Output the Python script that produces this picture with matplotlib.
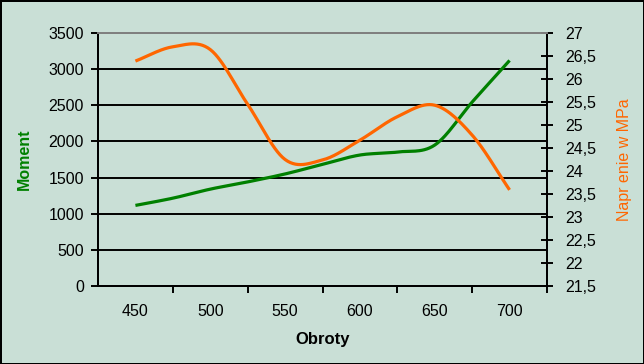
import numpy as np
import matplotlib
matplotlib.use("Agg")
import matplotlib.pyplot as plt
from matplotlib.ticker import FuncFormatter

plt.rcParams['font.family'] = ['Liberation Sans', 'DejaVu Sans']

# data
obroty = [450, 475, 500, 525, 550, 575, 600, 625, 650, 675, 700]
moment = [1115, 1215, 1340, 1440, 1550, 1683, 1812, 1853, 1950, 2545, 3120]
naprezenie = [26.39, 26.70, 26.64, 25.45, 24.25, 24.24, 24.67, 25.18, 25.43, 24.78, 23.59]

x_labels = [450, 500, 550, 600, 650, 700]
left_ticks = [0, 500, 1000, 1500, 2000, 2500, 3000, 3500]
right_ticks = [21.5, 22, 22.5, 23, 23.5, 24, 24.5, 25, 25.5, 26, 26.5, 27]

bg = '#C9DFD6'
green = '#008000'
orange = '#FF6600'


def smooth(x, y, n=30):
    # Catmull-Rom, close to Excel's smoothed line
    x = np.asarray(x, float)
    y = np.asarray(y, float)
    px = np.concatenate([[2 * x[0] - x[1]], x, [2 * x[-1] - x[-2]]])
    py = np.concatenate([[2 * y[0] - y[1]], y, [2 * y[-1] - y[-2]]])
    xs, ys = [], []
    t = np.linspace(0, 1, n)
    for i in range(1, len(px) - 2):
        for p, out in ((px, xs), (py, ys)):
            p0, p1, p2, p3 = p[i - 1], p[i], p[i + 1], p[i + 2]
            m1 = (p2 - p0) / 2
            m2 = (p3 - p1) / 2
            h = (2 * t**3 - 3 * t**2 + 1) * p1 + (t**3 - 2 * t**2 + t) * m1 \
                + (-2 * t**3 + 3 * t**2) * p2 + (t**3 - t**2) * m2
            out.extend(h)
    return np.array(xs), np.array(ys)


fig = plt.figure(figsize=(6.44, 3.64), dpi=100)
fig.patch.set_facecolor(bg)
fig.patch.set_edgecolor('black')
fig.patch.set_linewidth(2)

ax = fig.add_axes([98 / 644, 78 / 364, 449 / 644, 253 / 364])
ax.set_facecolor(bg)
ax2 = ax.twinx()

gx, gy = smooth(obroty, moment)
ax.plot(gx, gy, color=green, lw=2.3, solid_capstyle='butt', zorder=3)
ox, oy = smooth(obroty, naprezenie)
ax2.plot(ox, oy, color=orange, lw=2.3, solid_capstyle='butt', zorder=3)

ax.set_xlim(425, 725)
ax.set_ylim(0, 3500)
ax2.set_ylim(21.5, 27)

fs = 11.5
ax.set_xticks(x_labels)
ax.set_xticks(np.arange(475, 726, 50), minor=True)
ax.tick_params(axis='x', which='major', length=0, pad=13, labelsize=fs)
ax.tick_params(axis='x', which='minor', length=5, width=1.4, direction='out')

ax.set_yticks(left_ticks)
ax.tick_params(axis='y', length=5, width=1.4, direction='out', pad=5, labelsize=fs)
ax.grid(axis='y', color='black', lw=1.4)
ax.set_axisbelow(True)

ax2.set_yticks(right_ticks)
ax2.yaxis.set_major_formatter(FuncFormatter(lambda v, p: ('%g' % v).replace('.', ',')))
ax2.tick_params(axis='y', length=8, width=1.4, direction='inout', pad=9, labelsize=fs)

for a in (ax, ax2):
    for s in ('left', 'right', 'bottom'):
        a.spines[s].set_color('black')
        a.spines[s].set_linewidth(1.4)
    a.spines['top'].set_color('#808080')
    a.spines['top'].set_linewidth(1.4)

ax.set_xlabel('Obroty', fontsize=12, fontweight='bold', labelpad=9)
ax.set_ylabel('Moment', fontsize=11.5, fontweight='bold', color=green, labelpad=12)
ax2.set_ylabel('Napr enie w MPa', fontsize=11.5, color=orange, labelpad=15)

fig.savefig('out.png', dpi=100, facecolor=fig.get_facecolor(), edgecolor=fig.get_edgecolor())
